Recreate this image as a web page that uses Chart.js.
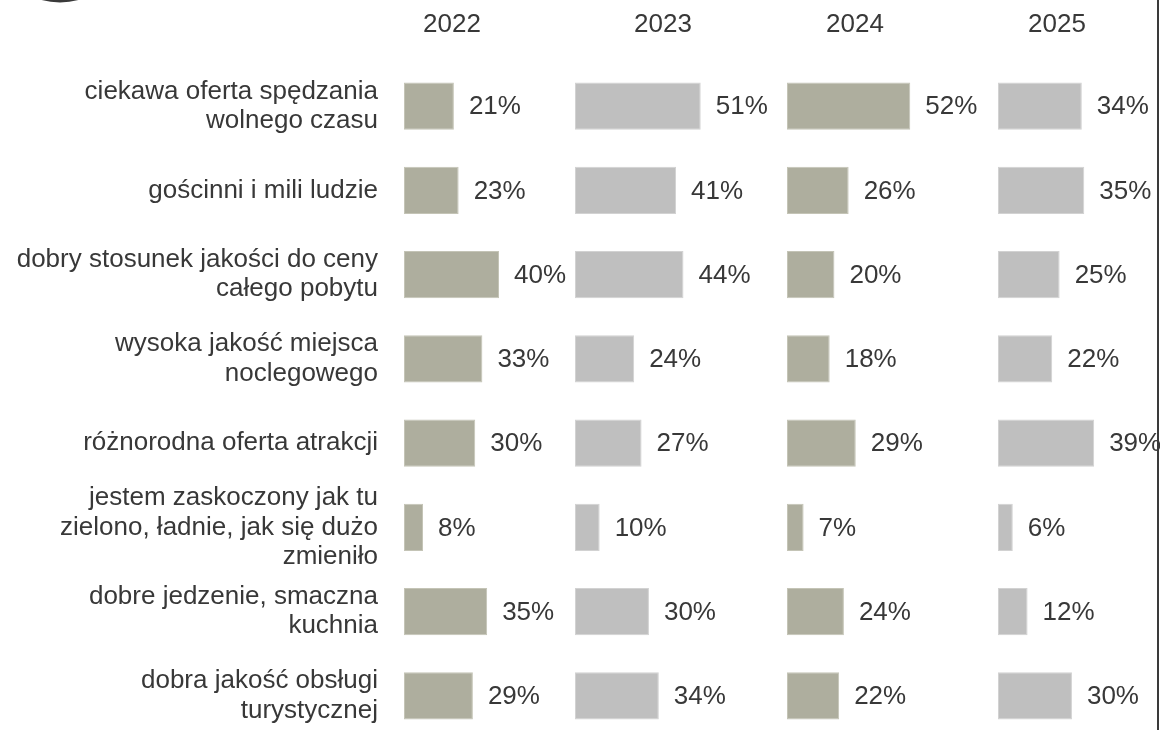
<!DOCTYPE html>
<html lang="pl">
<head>
<meta charset="utf-8">
<title>Powody zadowolenia z pobytu 2022–2025</title>
<script src="https://cdn.jsdelivr.net/npm/chart.js@4/dist/chart.umd.min.js"></script>
<style>
  html, body { margin: 0; padding: 0; background: #fff; overflow: hidden; }
  #wrap { position: relative; width: 1210px; height: 740px; }
</style>
</head>
<body>
<div id="wrap">
  <canvas id="chart"></canvas>
</div>
<script>
const categories = [
  ["ciekawa oferta spędzania", "wolnego czasu"],
  "gościnni i mili ludzie",
  ["dobry stosunek jakości do ceny", "całego pobytu"],
  ["wysoka jakość miejsca", "noclegowego"],
  "różnorodna oferta atrakcji",
  ["jestem zaskoczony jak tu", "zielono, ładnie, jak się dużo", "zmieniło"],
  ["dobre jedzenie, smaczna", "kuchnia"],
  ["dobra jakość obsługi", "turystycznej"]
];

const years = ["2022", "2023", "2024", "2025"];

const values2022 = [21, 23, 40, 33, 30, 8, 35, 29];
const values2023 = [51, 41, 44, 24, 27, 10, 30, 34];
const values2024 = [52, 26, 20, 18, 29, 7, 24, 22];
const values2025 = [34, 35, 25, 22, 39, 6, 12, 30];

const OLIVE = '#aeae9e';
const GREY = '#bfbfbf';
const TEXT = '#383838';
const FONT = "'Liberation Sans', Arial, sans-serif";
const FONT_SIZE = 26;

// one bar dataset per year, each on its own x axis; the x axes share one stack so they sit side by side
const makeSet = (label, data, color, axis) => ({
  label, data,
  xAxisID: axis,
  backgroundColor: color,
  borderColor: color === OLIVE ? '#c4c4b6' : '#d2d2d2',
  borderWidth: 1,
  borderSkipped: false,
  grouped: false,
  categoryPercentage: 1,
  barPercentage: 0.56
});

const xAxis = (max, weight) => ({
  type: 'linear',
  position: 'bottom',
  stack: 'years',
  stackWeight: weight,
  min: 0,
  max: max,
  display: false
});

// value labels to the right of each bar, year headings above each panel, frame bits
const labelsPlugin = {
  id: 'labels',
  afterDatasetsDraw(chart) {
    const ctx = chart.ctx;
    ctx.save();
    ctx.fillStyle = TEXT;
    ctx.font = FONT_SIZE + 'px ' + FONT;
    ctx.textAlign = 'left';
    ctx.textBaseline = 'middle';
    chart.data.datasets.forEach((ds, i) => {
      chart.getDatasetMeta(i).data.forEach((bar, j) => {
        ctx.fillText(ds.data[j] + '%', bar.x + 15, bar.y + 1);
      });
    });

    const headShift = [48, 88, 68, 59];
    ctx.textAlign = 'center';
    ctx.textBaseline = 'alphabetic';
    years.forEach((y, i) => {
      const sc = chart.scales['x' + i];
      ctx.fillText(y, sc.left + headShift[i], 32);
    });

    // right frame line
    ctx.strokeStyle = '#3a3a3a';
    ctx.lineWidth = 2;
    ctx.beginPath();
    ctx.moveTo(1158, 0);
    ctx.lineTo(1158, chart.height);
    ctx.stroke();

    // edge of the round badge above the labels
    ctx.lineWidth = 3;
    ctx.beginPath();
    ctx.arc(60, -66, 67, 0.35 * Math.PI, 0.65 * Math.PI);
    ctx.stroke();
    ctx.restore();
  }
};

new Chart(document.getElementById('chart').getContext('2d'), {
  type: 'bar',
  data: {
    labels: categories,
    datasets: [
      makeSet(years[0], values2022, OLIVE, 'x0'),
      makeSet(years[1], values2023, GREY, 'x1'),
      makeSet(years[2], values2024, OLIVE, 'x2'),
      makeSet(years[3], values2025, GREY, 'x3')
    ]
  },
  options: {
    indexAxis: 'y',
    responsive: true,
    maintainAspectRatio: false,
    animation: false,
    layout: { padding: { top: 64, right: 0, bottom: 2, left: 0 } },
    plugins: {
      legend: { display: false },
      tooltip: { enabled: false }
    },
    scales: {
      x0: xAxis(72, 171),
      x1: xAxis(86, 212),
      x2: xAxis(89, 211),
      x3: xAxis(86, 212),
      y: {
        type: 'category',
        position: 'left',
        grid: { display: false, drawTicks: false },
        border: { display: false },
        ticks: {
          color: TEXT,
          padding: 26,
          autoSkip: false,
          font: { family: FONT, size: FONT_SIZE, lineHeight: 1.12 }
        },
        afterFit: (scale) => {
          // fixed label column; tall labels must not push the plot area
          scale.width = 404;
          scale.paddingTop = 0;
          scale.paddingBottom = 0;
        }
      }
    }
  },
  plugins: [labelsPlugin]
});
</script>
</body>
</html>
